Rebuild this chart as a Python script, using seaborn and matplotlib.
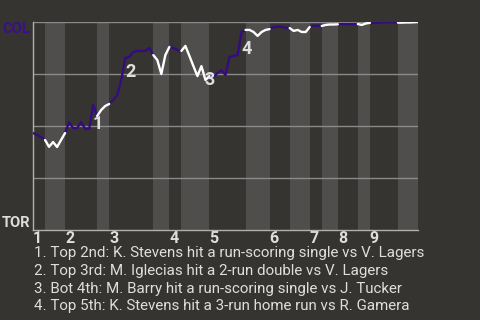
import numpy as np
import pandas as pd
import matplotlib
matplotlib.use("Agg")
import matplotlib.pyplot as plt
import seaborn as sns

# ---------------- data ----------------
away_team = "COL"
home_team = "TOR"
innings = ["1", "2", "3", "4", "5", "6", "7", "8", "9"]
# plate appearances per half inning (top 1, bot 1, top 2, ...)
pas_per_half = [3, 5, 8, 3, 11, 4, 3, 7, 9, 6, 5, 5, 3, 4, 5, 3, 7, 5]
# COL win probability after each plate appearance (index 0 = game start)
col_wp = [
    0.466, 0.457, 0.447, 0.433,
    0.400, 0.423, 0.399, 0.433, 0.466,
    0.519, 0.490, 0.490, 0.519, 0.486, 0.486, 0.601, 0.548,
    0.577, 0.596, 0.606,
    0.625, 0.649, 0.721, 0.827, 0.832, 0.856, 0.861, 0.861, 0.861, 0.875, 0.841,
    0.817, 0.750, 0.841, 0.880,
    0.875, 0.865, 0.861,
    0.885, 0.837, 0.788, 0.740, 0.788, 0.721, 0.740,
    0.736, 0.755, 0.769, 0.745, 0.832, 0.837, 0.841, 0.952, 0.962,
    0.962, 0.952, 0.933, 0.952, 0.962, 0.966,
    0.976, 0.977, 0.977, 0.971, 0.971,
    0.957, 0.962, 0.952, 0.952, 0.976,
    0.982, 0.982, 0.981,
    0.986, 0.988, 0.988, 0.989,
    0.990, 0.990, 0.990, 0.990, 0.990,
    0.986, 0.993, 0.996,
    0.996, 0.996, 0.997, 0.997, 0.997, 0.997, 0.997,
    0.997, 0.998, 0.998, 0.999, 1.000,
]
event_labels = ["1", "2", "3", "4"]
event_pa = [15, 23, 43, 52]
event_texts = [
    "1. Top 2nd: K. Stevens hit a run-scoring single vs V. Lagers",
    "2. Top 3rd: M. Iglecias hit a 2-run double vs V. Lagers",
    "3. Bot 4th: M. Barry hit a run-scoring single vs J. Tucker",
    "4. Top 5th: K. Stevens hit a 3-run home run vs R. Gamera",
]

# ---------------- style ----------------
BG = "#363430"
BAND = "#4f4e4c"
PURPLE = "#350c80"
LABEL_PURPLE = "#3a0f8c"
WHITE = "#ffffff"
TXT = "#dedede"
GRID = "#8a8a8a"
SPINE = "#b0b0b0"

sns.set_style("dark", rc={"axes.facecolor": BG, "figure.facecolor": BG})
plt.rcParams["font.family"] = ["Roboto", "DejaVu Sans"]

fig = plt.figure(figsize=(4.8, 3.2), dpi=100)
ax = fig.add_axes([33 / 480, 1 - 230 / 320, (418 - 33) / 480, (230 - 22) / 320])
ax.set_facecolor(BG)

# half-inning boundaries
bounds = np.concatenate([[0], np.cumsum(pas_per_half)])
total = bounds[-1]

# shaded bottom halves
for h in range(1, len(pas_per_half), 2):
    ax.axvspan(bounds[h], bounds[h + 1], color=BAND, lw=0, zorder=0)

# grid lines
for gy in [0.25, 0.5, 0.75, 1.0]:
    ax.axhline(gy, color=GRID, lw=1, zorder=1)

# build segment table
rows = []
for h in range(len(pas_per_half)):
    side = "top" if h % 2 == 0 else "bot"
    for i in range(bounds[h], bounds[h + 1] + 1):
        rows.append({"pa": i, "wp": col_wp[i], "seg": h, "side": side})
df = pd.DataFrame(rows)

sns.lineplot(data=df, x="pa", y="wp", units="seg", hue="side",
             palette={"top": PURPLE, "bot": WHITE}, estimator=None,
             sort=False, legend=False, lw=1.7, ax=ax, zorder=3)

# event markers
label_offsets = [(5, -19), (5, -14), (4, 0), (5, -17)]
for lab, pa, off in zip(event_labels, event_pa, label_offsets):
    ax.annotate(lab, (pa, col_wp[pa]), xytext=off, textcoords="offset pixels",
                ha="center", va="center", fontsize=13, fontweight="bold",
                color=TXT, zorder=4)

ax.set_xlim(0, total)
ax.set_ylim(0, 1)
ax.set_xlabel("")
ax.set_ylabel("")

# inning ticks at start of each inning
ax.set_xticks(bounds[0:-1:2])
ax.set_xticklabels(innings, fontsize=11.5, fontweight="bold", color=TXT)
for t in ax.get_xticklabels():
    t.set_ha("left")
ax.tick_params(axis="x", length=0, pad=0.5)

ax.set_yticks([0, 1])
ax.set_yticklabels([home_team, away_team], fontsize=10.6, fontweight="bold")
ylabs = ax.get_yticklabels()
ylabs[0].set_color(TXT)
ylabs[0].set_va("bottom")
ylabs[1].set_color(LABEL_PURPLE)
ylabs[1].set_va("top")
ax.tick_params(axis="y", length=0, pad=2)

for s in ["top", "right"]:
    ax.spines[s].set_visible(False)
for s in ["left", "bottom"]:
    ax.spines[s].set_visible(True)
    ax.spines[s].set_color(SPINE)
    ax.spines[s].set_linewidth(1)
ax.grid(False)

# event description list
for k, txt in enumerate(event_texts):
    fig.text(34 / 480, 1 - (253.3 + 17.7 * k) / 320, txt, fontsize=10.9,
             color=TXT, ha="left", va="center")

fig.savefig("out.png", dpi=100, facecolor=BG)
